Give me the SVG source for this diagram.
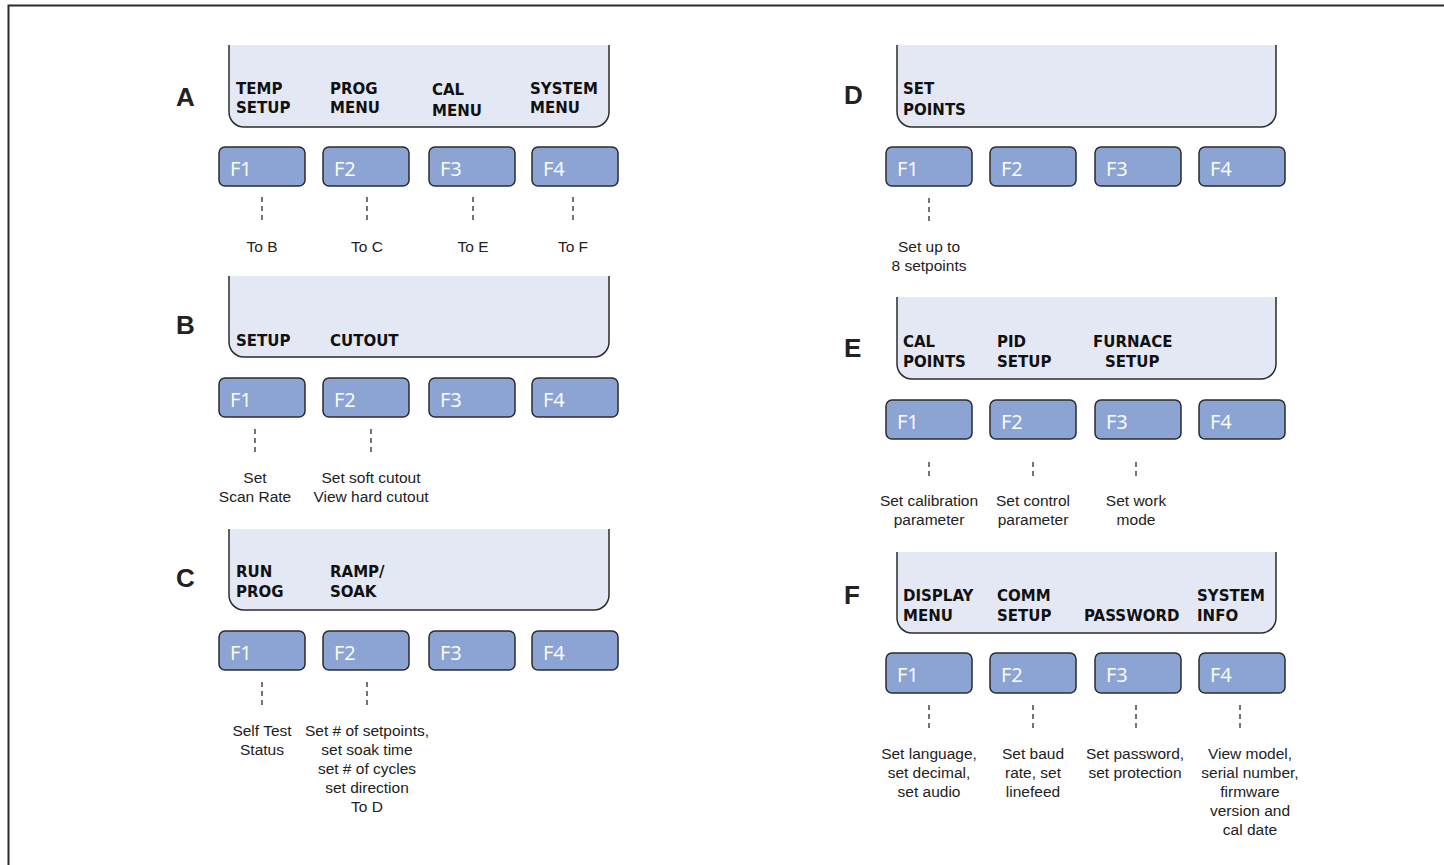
<svg xmlns="http://www.w3.org/2000/svg" width="1444" height="865" viewBox="0 0 1444 865">
<style>
.disp{fill:#e4e8f4;stroke:#2b2b2b;stroke-width:1.5}
.btn{fill:#8ba4d4;stroke:#2b2b2b;stroke-width:1.5}
.bt{font-family:"Open Sans","Noto Sans",sans-serif;font-size:20px;fill:#ffffff}
.dl{font-family:"DejaVu Sans",Verdana,sans-serif;font-weight:bold;font-size:15px;fill:#111}
.lt{font-family:"Liberation Sans",Arial,sans-serif;font-weight:bold;font-size:26px;fill:#222}
.cap{font-family:"Liberation Sans",Arial,sans-serif;font-size:15.5px;fill:#222;text-anchor:middle}
.dash{stroke:#2b2b2b;stroke-width:1.3;stroke-dasharray:5 4;fill:none}
</style>
<rect x="0" y="0" width="1444" height="865" fill="#ffffff"/>
<path d="M8.5,865 V5.5 H1444" fill="none" stroke="#2b2b2b" stroke-width="2"/>

<g id="panelA">
<text class="lt" x="176" y="106">A</text>
<path class="disp" d="M229,45 V112 A15,15 0 0 0 244,127 H594 A15,15 0 0 0 609,112 V45"/>
<text class="dl" x="236" y="94">TEMP</text><text class="dl" x="236" y="113">SETUP</text>
<text class="dl" x="330" y="94">PROG</text><text class="dl" x="330" y="113">MENU</text>
<text class="dl" x="432" y="95">CAL</text><text class="dl" x="432" y="116">MENU</text>
<text class="dl" x="530" y="94">SYSTEM</text><text class="dl" x="530" y="113">MENU</text>
<rect class="btn" x="219" y="147" width="86" height="39" rx="6"/><text class="bt" x="230" y="176">F1</text>
<rect class="btn" x="323" y="147" width="86" height="39" rx="6"/><text class="bt" x="334" y="176">F2</text>
<rect class="btn" x="429" y="147" width="86" height="39" rx="6"/><text class="bt" x="440" y="176">F3</text>
<rect class="btn" x="532" y="147" width="86" height="39" rx="6"/><text class="bt" x="543" y="176">F4</text>
<text class="cap" x="262" y="252">To B</text>
<text class="cap" x="367" y="252">To C</text>
<text class="cap" x="473" y="252">To E</text>
<text class="cap" x="573" y="252">To F</text>
</g>

<g id="panelB">
<text class="lt" x="176" y="334">B</text>
<path class="disp" d="M229,276 V342 A15,15 0 0 0 244,357 H594 A15,15 0 0 0 609,342 V276"/>
<text class="dl" x="236" y="346">SETUP</text>
<text class="dl" x="330" y="346">CUTOUT</text>
<rect class="btn" x="219" y="378" width="86" height="39" rx="6"/><text class="bt" x="230" y="407">F1</text>
<rect class="btn" x="323" y="378" width="86" height="39" rx="6"/><text class="bt" x="334" y="407">F2</text>
<rect class="btn" x="429" y="378" width="86" height="39" rx="6"/><text class="bt" x="440" y="407">F3</text>
<rect class="btn" x="532" y="378" width="86" height="39" rx="6"/><text class="bt" x="543" y="407">F4</text>
<text class="cap" x="255" y="483">Set</text>
<text class="cap" x="255" y="502">Scan Rate</text>
<text class="cap" x="371" y="483">Set soft cutout</text>
<text class="cap" x="371" y="502">View hard cutout</text>
</g>

<g id="panelC">
<text class="lt" x="176" y="587">C</text>
<path class="disp" d="M229,529 V595 A15,15 0 0 0 244,610 H594 A15,15 0 0 0 609,595 V529"/>
<text class="dl" x="236" y="577">RUN</text><text class="dl" x="236" y="597">PROG</text>
<text class="dl" x="330" y="577">RAMP/</text><text class="dl" x="330" y="597">SOAK</text>
<rect class="btn" x="219" y="631" width="86" height="39" rx="6"/><text class="bt" x="230" y="660">F1</text>
<rect class="btn" x="323" y="631" width="86" height="39" rx="6"/><text class="bt" x="334" y="660">F2</text>
<rect class="btn" x="429" y="631" width="86" height="39" rx="6"/><text class="bt" x="440" y="660">F3</text>
<rect class="btn" x="532" y="631" width="86" height="39" rx="6"/><text class="bt" x="543" y="660">F4</text>
<text class="cap" x="262" y="736">Self Test</text>
<text class="cap" x="262" y="755">Status</text>
<text class="cap" x="367" y="736">Set # of setpoints,</text>
<text class="cap" x="367" y="755">set soak time</text>
<text class="cap" x="367" y="774">set # of cycles</text>
<text class="cap" x="367" y="793">set direction</text>
<text class="cap" x="367" y="812">To D</text>
</g>

<g id="panelD">
<text class="lt" x="844" y="104">D</text>
<path class="disp" d="M897,45 V112 A15,15 0 0 0 912,127 H1261 A15,15 0 0 0 1276,112 V45"/>
<text class="dl" x="903" y="94">SET</text><text class="dl" x="903" y="115">POINTS</text>
<rect class="btn" x="886" y="147" width="86" height="39" rx="6"/><text class="bt" x="897" y="176">F1</text>
<rect class="btn" x="990" y="147" width="86" height="39" rx="6"/><text class="bt" x="1001" y="176">F2</text>
<rect class="btn" x="1095" y="147" width="86" height="39" rx="6"/><text class="bt" x="1106" y="176">F3</text>
<rect class="btn" x="1199" y="147" width="86" height="39" rx="6"/><text class="bt" x="1210" y="176">F4</text>
<text class="cap" x="929" y="252">Set up to</text>
<text class="cap" x="929" y="271">8 setpoints</text>
</g>

<g id="panelE">
<text class="lt" x="844" y="357">E</text>
<path class="disp" d="M897,297 V364 A15,15 0 0 0 912,379 H1261 A15,15 0 0 0 1276,364 V297"/>
<text class="dl" x="903" y="347">CAL</text><text class="dl" x="903" y="367">POINTS</text>
<text class="dl" x="997" y="347">PID</text><text class="dl" x="997" y="367">SETUP</text>
<text class="dl" x="1093" y="347">FURNACE</text><text class="dl" x="1105" y="367">SETUP</text>
<rect class="btn" x="886" y="400" width="86" height="39" rx="6"/><text class="bt" x="897" y="429">F1</text>
<rect class="btn" x="990" y="400" width="86" height="39" rx="6"/><text class="bt" x="1001" y="429">F2</text>
<rect class="btn" x="1095" y="400" width="86" height="39" rx="6"/><text class="bt" x="1106" y="429">F3</text>
<rect class="btn" x="1199" y="400" width="86" height="39" rx="6"/><text class="bt" x="1210" y="429">F4</text>
<text class="cap" x="929" y="506">Set calibration</text>
<text class="cap" x="929" y="525">parameter</text>
<text class="cap" x="1033" y="506">Set control</text>
<text class="cap" x="1033" y="525">parameter</text>
<text class="cap" x="1136" y="506">Set work</text>
<text class="cap" x="1136" y="525">mode</text>
</g>

<g id="panelF">
<text class="lt" x="844" y="604">F</text>
<path class="disp" d="M897,552 V618 A15,15 0 0 0 912,633 H1261 A15,15 0 0 0 1276,618 V552"/>
<text class="dl" x="903" y="601">DISPLAY</text><text class="dl" x="903" y="621">MENU</text>
<text class="dl" x="997" y="601">COMM</text><text class="dl" x="997" y="621">SETUP</text>
<text class="dl" x="1084" y="621">PASSWORD</text>
<text class="dl" x="1197" y="601">SYSTEM</text><text class="dl" x="1197" y="621">INFO</text>
<rect class="btn" x="886" y="653" width="86" height="40" rx="6"/><text class="bt" x="897" y="682">F1</text>
<rect class="btn" x="990" y="653" width="86" height="40" rx="6"/><text class="bt" x="1001" y="682">F2</text>
<rect class="btn" x="1095" y="653" width="86" height="40" rx="6"/><text class="bt" x="1106" y="682">F3</text>
<rect class="btn" x="1199" y="653" width="86" height="40" rx="6"/><text class="bt" x="1210" y="682">F4</text>
<text class="cap" x="929" y="759">Set language,</text>
<text class="cap" x="929" y="778">set decimal,</text>
<text class="cap" x="929" y="797">set audio</text>
<text class="cap" x="1033" y="759">Set baud</text>
<text class="cap" x="1033" y="778">rate, set</text>
<text class="cap" x="1033" y="797">linefeed</text>
<text class="cap" x="1135" y="759">Set password,</text>
<text class="cap" x="1135" y="778">set protection</text>
<text class="cap" x="1250" y="759">View model,</text>
<text class="cap" x="1250" y="778">serial number,</text>
<text class="cap" x="1250" y="797">firmware</text>
<text class="cap" x="1250" y="816">version and</text>
<text class="cap" x="1250" y="835">cal date</text>
</g>

<g id="connectors">
<line class="dash" x1="262" y1="197" x2="262" y2="223"/>
<line class="dash" x1="367" y1="197" x2="367" y2="223"/>
<line class="dash" x1="473" y1="197" x2="473" y2="223"/>
<line class="dash" x1="573" y1="197" x2="573" y2="223"/>
<line class="dash" x1="255" y1="429" x2="255" y2="453"/>
<line class="dash" x1="371" y1="429" x2="371" y2="453"/>
<line class="dash" x1="262" y1="682" x2="262" y2="707"/>
<line class="dash" x1="367" y1="682" x2="367" y2="707"/>
<line class="dash" x1="929" y1="198" x2="929" y2="223"/>
<line class="dash" x1="929" y1="462" x2="929" y2="476"/>
<line class="dash" x1="1033" y1="462" x2="1033" y2="476"/>
<line class="dash" x1="1136" y1="462" x2="1136" y2="476"/>
<line class="dash" x1="929" y1="705" x2="929" y2="729"/>
<line class="dash" x1="1033" y1="705" x2="1033" y2="729"/>
<line class="dash" x1="1136" y1="705" x2="1136" y2="729"/>
<line class="dash" x1="1240" y1="705" x2="1240" y2="729"/>
</g>
</svg>
